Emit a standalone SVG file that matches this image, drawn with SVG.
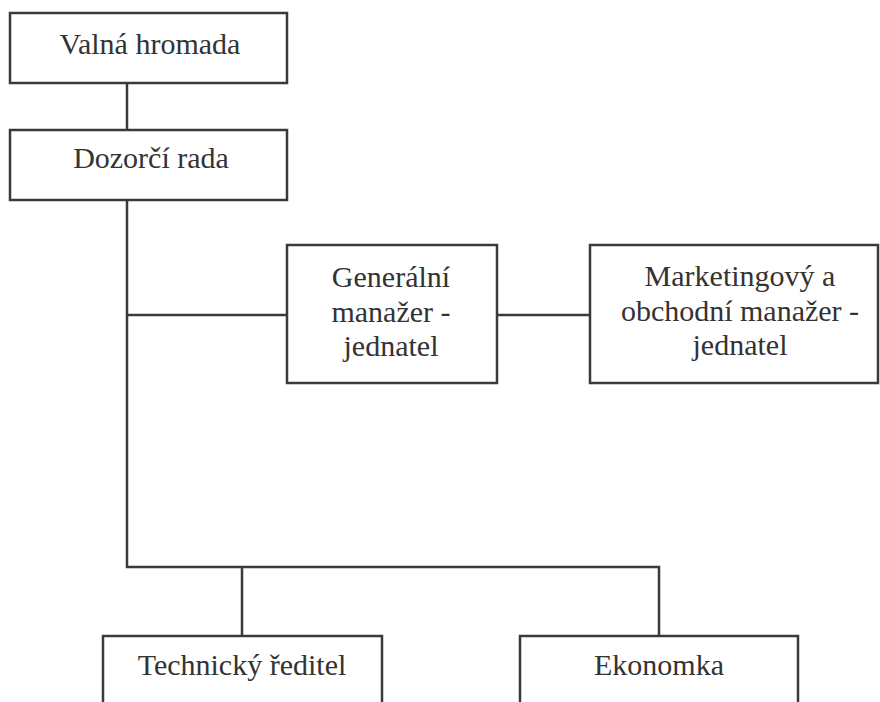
<svg xmlns="http://www.w3.org/2000/svg" width="880" height="702" viewBox="0 0 880 702">
<style>
.box{fill:#fff;stroke:#3a3a3a;stroke-width:2.5}
.ln{fill:none;stroke:#3a3a3a;stroke-width:2.5}
.t{font-size:30px;fill:#333;text-anchor:middle}
</style>
<rect width="880" height="702" fill="#fff"/>
<g id="connectors">
<line class="ln" x1="127" y1="83" x2="127" y2="130"/>
<polyline class="ln" points="127,200 127,567 659,567 659,636"/>
<line class="ln" x1="127" y1="315" x2="287" y2="315"/>
<line class="ln" x1="497" y1="315" x2="590" y2="315"/>
<line class="ln" x1="242" y1="567" x2="242" y2="636"/>
</g>
<g font-family="Liberation Serif, Times New Roman, DejaVu Serif, serif">
<g id="valna">
<rect class="box" x="10" y="13" width="277" height="70"/>
<text class="t" x="150" y="54">Valná hromada</text>
</g>
<g id="dozorci">
<rect class="box" x="10" y="130" width="277" height="70"/>
<text class="t" x="151" y="168">Dozorčí rada</text>
</g>
<g id="generalni">
<rect class="box" x="287" y="245" width="210" height="138"/>
<text class="t" x="391" y="287">Generální</text>
<text class="t" x="391" y="322">manažer -</text>
<text class="t" x="391" y="356">jednatel</text>
</g>
<g id="marketing">
<rect class="box" x="590" y="245" width="288" height="138"/>
<text class="t" x="740" y="286">Marketingový a</text>
<text class="t" x="740" y="321">obchodní manažer -</text>
<text class="t" x="740" y="355">jednatel</text>
</g>
<g id="technicky">
<rect class="box" x="103" y="636" width="279" height="80"/>
<text class="t" x="242" y="675">Technický ředitel</text>
</g>
<g id="ekonomka">
<rect class="box" x="520" y="636" width="278" height="80"/>
<text class="t" x="659" y="675">Ekonomka</text>
</g>
</g>
</svg>
